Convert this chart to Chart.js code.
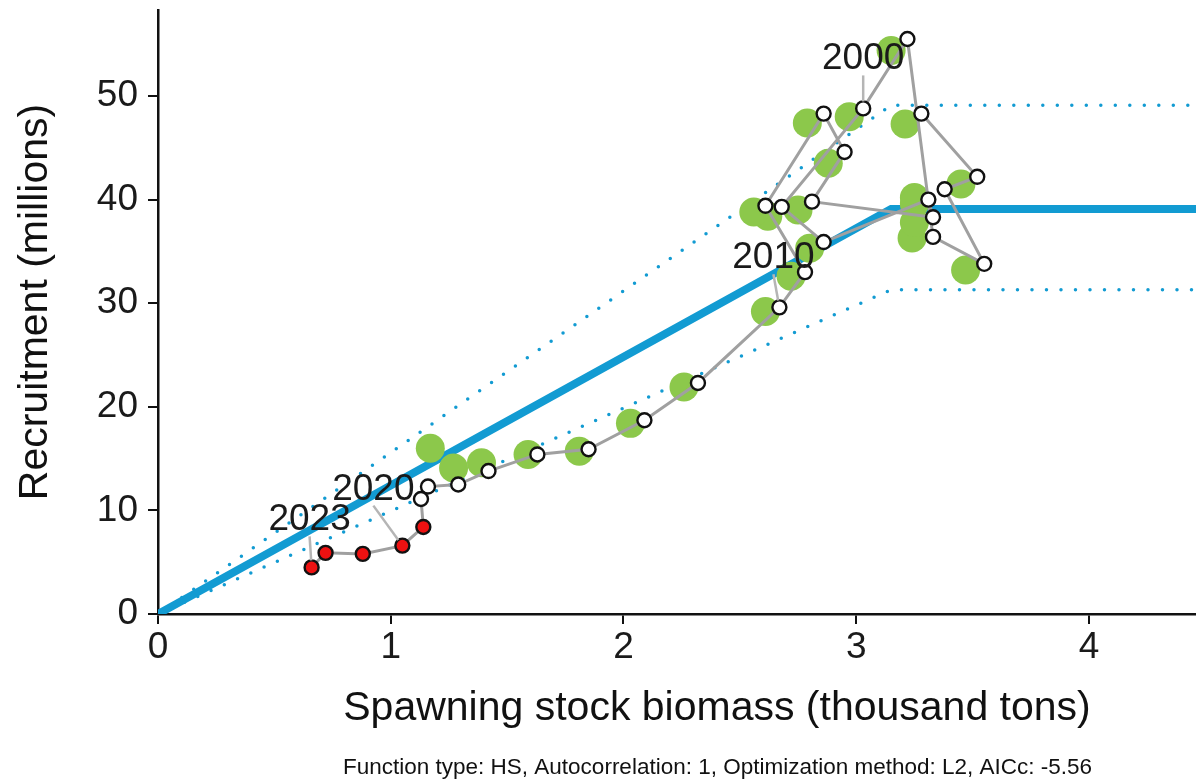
<!DOCTYPE html>
<html>
<head>
<meta charset="utf-8">
<script src="https://cdn.jsdelivr.net/npm/chart.js@4.4.1/dist/chart.umd.min.js"></script>
<style>
  html, body { margin: 0; padding: 0; background: #fff; overflow: hidden; }
  #wrap { position: relative; width: 1196px; height: 779px; }
</style>
</head>
<body>
<div id="wrap"><canvas id="srChart"></canvas></div>
<script>
// stock-recruitment pairs (SSB in thousand tons, R in millions)
const years = [1994, 1995, 1996, 1997, 1998, 1999, 2000, 2001, 2002, 2003,
               2004, 2005, 2006, 2007, 2008, 2009, 2010, 2011, 2012, 2013,
               2014, 2015, 2016, 2017, 2018, 2019, 2020, 2021, 2022, 2023];
const ssb = [3.28, 3.52, 3.38, 3.55, 3.33, 3.22, 3.03, 2.68, 2.86, 3.31,
             3.33, 2.81, 2.95, 2.86, 2.61, 2.78, 2.67, 2.32, 2.09, 1.85,
             1.63, 1.42, 1.29, 1.16, 1.13, 1.14, 1.05, 0.88, 0.72, 0.66];
const recruits = [48.3, 42.2, 41.0, 33.8, 36.4, 55.5, 48.8, 39.3, 35.9, 40.0,
                  38.3, 39.8, 44.6, 48.3, 39.4, 33.0, 29.6, 22.3, 18.7, 15.9,
                  15.4, 13.8, 12.5, 12.3, 11.1, 8.4, 6.6, 5.8, 5.9, 4.5];
const recentCount = 5; // last years shown in red

// previous estimates (green)
const prevSsb = [3.21, 3.45, 3.25, 3.47, 3.24, 3.15, 2.97, 2.62, 2.80, 3.25,
                 3.25, 2.75, 2.88, 2.79, 2.56, 2.72, 2.61, 2.26, 2.03, 1.81,
                 1.59, 1.39, 1.27, 1.17];
const prevRec = [47.3, 41.5, 40.2, 33.2, 36.3, 54.4, 48.0, 38.4, 35.3, 39.6,
                 37.8, 39.0, 43.5, 47.4, 38.8, 32.6, 29.2, 21.9, 18.4, 15.7,
                 15.4, 14.6, 14.1, 16.0];

// hockey-stick fit and its band
const hsBreak = 3.15;
const hsLevel = 39.1;
const hsUpper = 49.1;
const hsLower = 31.3;

const xTicks = [0, 1, 2, 3, 4];
const yTicks = [0, 10, 20, 30, 40, 50];
const labelYears = [2000, 2010, 2020, 2023];

const footText = 'Function type: HS, Autocorrelation: 1, Optimization method: L2, AICc: -5.56';

const FONT = "'Liberation Sans', Arial, Helvetica, sans-serif";
Chart.defaults.font.family = FONT;

const X_MAX = 4.46;
const Y_MAX = 58.3;

function hsLine(level) {
  return [{x: 0, y: 0}, {x: hsBreak, y: level}, {x: 5, y: level}];
}

const trajectory = years.map((yr, i) => ({x: ssb[i], y: recruits[i]}));
const prevPts = prevSsb.map((v, i) => ({x: v, y: prevRec[i]}));
const pointFill = years.map((yr, i) => i >= years.length - recentCount ? '#ee1111' : '#ffffff');

// year labels with leader lines (pixel offsets from the point)
const labelOffsets = { 2000: [0, -39], 2010: [-6, -39], 2020: [-29, -46], 2023: [-2, -37] };

const annotate = {
  id: 'annotate',
  afterDatasetsDraw(chart) {
    const ctx = chart.ctx;
    const xs = chart.scales.x, ys = chart.scales.y;
    ctx.save();
    labelYears.forEach(yr => {
      const i = years.indexOf(yr);
      const px = xs.getPixelForValue(ssb[i]);
      const py = ys.getPixelForValue(recruits[i]);
      const off = labelOffsets[yr];
      const tx = px + off[0], ty = py + off[1];
      // leader
      const sx = tx, sy = ty + 6;
      const dx = px - sx, dy = py - sy;
      const len = Math.sqrt(dx * dx + dy * dy);
      const ex = px - dx / len * 7, ey = py - dy / len * 7;
      ctx.strokeStyle = '#b5b5b5';
      ctx.lineWidth = 2.5;
      ctx.beginPath();
      ctx.moveTo(sx, sy);
      ctx.lineTo(ex, ey);
      ctx.stroke();
      ctx.fillStyle = '#1a1a1a';
      ctx.font = '37px ' + FONT;
      ctx.textAlign = 'center';
      ctx.textBaseline = 'alphabetic';
      ctx.fillText(String(yr), tx, ty);
    });
    ctx.restore();
  },
  afterDraw(chart) {
    const ctx = chart.ctx;
    ctx.save();
    ctx.fillStyle = '#111';
    // y title
    ctx.font = '41px ' + FONT;
    ctx.textAlign = 'center';
    ctx.textBaseline = 'middle';
    ctx.translate(36, 302);
    ctx.rotate(-Math.PI / 2);
    ctx.fillText('Recruitment (millions)', 0, 0);
    ctx.restore();
    ctx.save();
    ctx.fillStyle = '#111';
    ctx.font = '41px ' + FONT;
    ctx.textAlign = 'center';
    ctx.textBaseline = 'alphabetic';
    ctx.fillText('Spawning stock biomass (thousand tons)', 717, 720);
    ctx.font = '22.5px ' + FONT;
    ctx.textAlign = 'left';
    ctx.fillText(footText, 343, 774);
    ctx.restore();
  }
};

new Chart(document.getElementById('srChart'), {
  type: 'scatter',
  data: {
    datasets: [
      {
        label: 'trajectory',
        data: trajectory,
        showLine: true,
        borderColor: '#a0a0a0',
        borderWidth: 3,
        pointRadius: 7,
        pointBackgroundColor: pointFill,
        pointBorderColor: '#111',
        pointBorderWidth: 2.4,
        order: 1
      },
      {
        label: 'previous',
        data: prevPts,
        pointRadius: 14.5,
        pointBackgroundColor: '#8cc84b',
        pointBorderWidth: 0,
        order: 2
      },
      {
        label: 'upper',
        data: hsLine(hsUpper),
        showLine: true,
        borderColor: '#129bd2',
        borderWidth: 3.5,
        borderDash: [0, 14.5],
        borderCapStyle: 'round',
        pointRadius: 0,
        order: 3
      },
      {
        label: 'lower',
        data: hsLine(hsLower),
        showLine: true,
        borderColor: '#129bd2',
        borderWidth: 3.5,
        borderDash: [0, 14.5],
        borderCapStyle: 'round',
        pointRadius: 0,
        order: 3
      },
      {
        label: 'HS',
        data: hsLine(hsLevel),
        showLine: true,
        borderColor: '#129bd2',
        borderWidth: 8,
        pointRadius: 0,
        order: 4
      }
    ]
  },
  options: {
    responsive: true,
    maintainAspectRatio: false,
    animation: false,
    devicePixelRatio: 1,
    layout: { autoPadding: false, padding: { top: 10, right: 0, bottom: 0, left: 0 } },
    plugins: { legend: { display: false }, tooltip: { enabled: false } },
    scales: {
      x: {
        type: 'linear',
        min: 0,
        max: X_MAX,
        afterBuildTicks: s => { s.ticks = xTicks.map(v => ({value: v})); },
        afterFit: s => { s.height = 165; s.paddingLeft = 0; s.paddingRight = 0; },
        grid: { drawOnChartArea: false, drawTicks: true, tickLength: 10, color: '#111', lineWidth: 2 },
        border: { display: true, color: '#111', width: 2.5 },
        ticks: { font: { size: 37 }, color: '#1a1a1a', padding: 2, maxRotation: 0 }
      },
      y: {
        type: 'linear',
        min: 0,
        max: Y_MAX,
        afterBuildTicks: s => { s.ticks = yTicks.map(v => ({value: v})); },
        afterFit: s => { s.width = 158; s.paddingTop = 0; s.paddingBottom = 0; },
        grid: { drawOnChartArea: false, drawTicks: true, tickLength: 10, color: '#111', lineWidth: 2 },
        border: { display: true, color: '#111', width: 2.5 },
        ticks: { font: { size: 37 }, color: '#1a1a1a', padding: 10 }
      }
    }
  },
  plugins: [annotate]
});
</script>
</body>
</html>
